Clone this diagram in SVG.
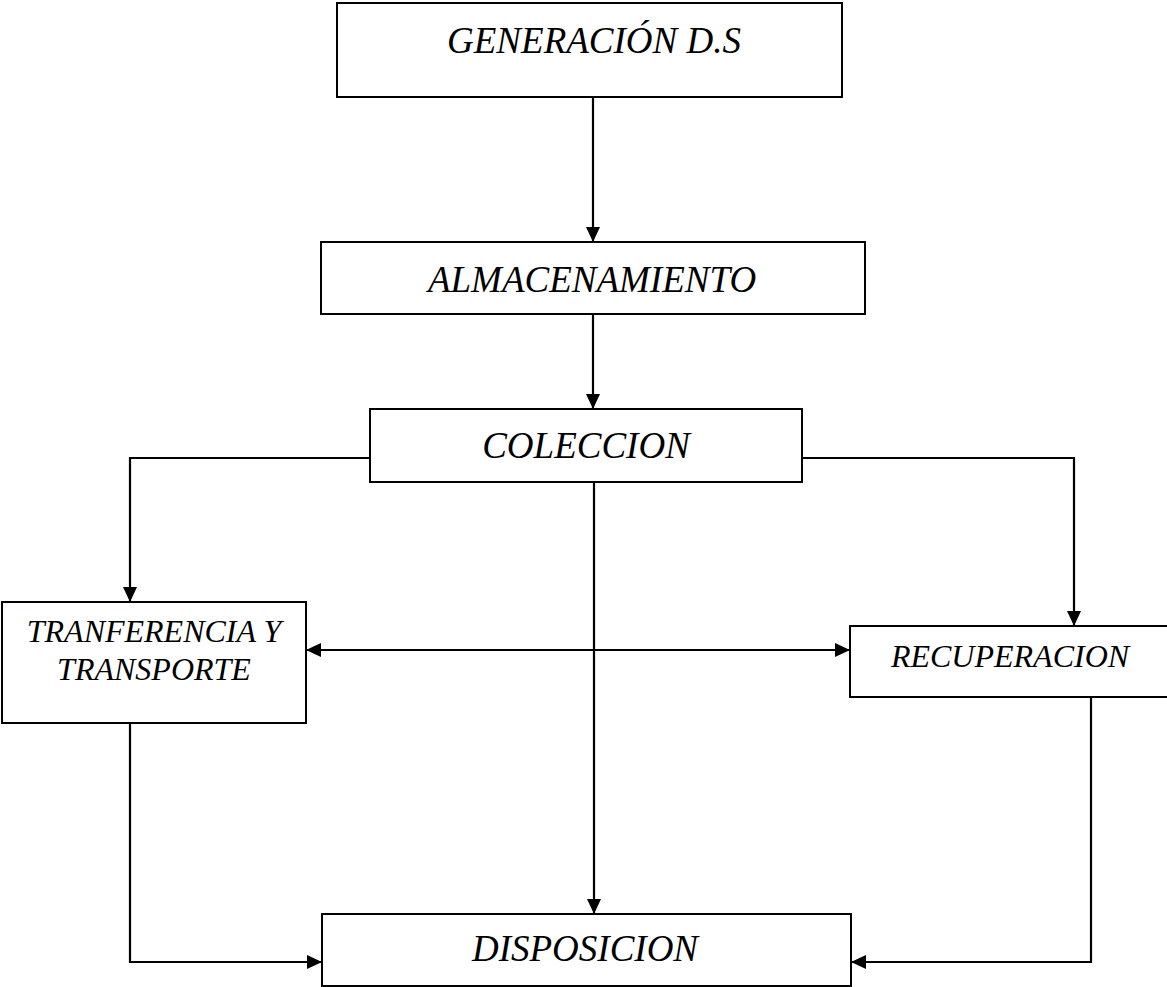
<svg xmlns="http://www.w3.org/2000/svg" width="1167" height="987" viewBox="0 0 1167 987">
<style>
.box{fill:#fff;stroke:#000;stroke-width:2}
.lbl{font-family:"Liberation Serif","Times New Roman",serif;font-style:italic;font-size:37px;fill:#000;text-anchor:middle}
.sm{font-size:32px}
.con{fill:none;stroke:#000;stroke-width:2.2}
</style>
<defs>
<marker id="ah" markerUnits="userSpaceOnUse" markerWidth="15" markerHeight="14" refX="15" refY="7" orient="auto-start-reverse">
<path d="M0,0 L15,7 L0,14 z" fill="#000"/>
</marker>
</defs>
<rect width="1167" height="987" fill="#fff"/>
<g id="connectors">
<path class="con" d="M593,97 V242" marker-end="url(#ah)"/>
<path class="con" d="M593,314 V409" marker-end="url(#ah)"/>
<path class="con" d="M370,458 H130 V602" marker-end="url(#ah)"/>
<path class="con" d="M802,458 H1074 V626" marker-end="url(#ah)"/>
<path class="con" d="M306,650 H850" marker-start="url(#ah)" marker-end="url(#ah)"/>
<path class="con" d="M594,482 V914" marker-end="url(#ah)"/>
<path class="con" d="M130,723 V962 H322" marker-end="url(#ah)"/>
<path class="con" d="M1091,697 V962 H851" marker-end="url(#ah)"/>
</g>
<g id="generacion">
<rect class="box" x="337" y="3" width="505" height="94"/>
<text class="lbl" x="594" y="53">GENERACIÓN D.S</text>
</g>
<g id="almacenamiento">
<rect class="box" x="321" y="242" width="544" height="72"/>
<text class="lbl" x="592" y="292">ALMACENAMIENTO</text>
</g>
<g id="coleccion">
<rect class="box" x="370" y="409" width="432" height="73"/>
<text class="lbl" x="586" y="458">COLECCION</text>
</g>
<g id="transferencia">
<rect class="box" x="2" y="602" width="304" height="121"/>
<text class="lbl sm" x="154" y="642">TRANFERENCIA Y</text>
<text class="lbl sm" x="154" y="680">TRANSPORTE</text>
</g>
<g id="recuperacion">
<rect class="box" x="850" y="626" width="320" height="71"/>
<text class="lbl sm" x="1010" y="667">RECUPERACION</text>
</g>
<g id="disposicion">
<rect class="box" x="322" y="914" width="529" height="72"/>
<text class="lbl" x="585" y="961">DISPOSICION</text>
</g>
</svg>
